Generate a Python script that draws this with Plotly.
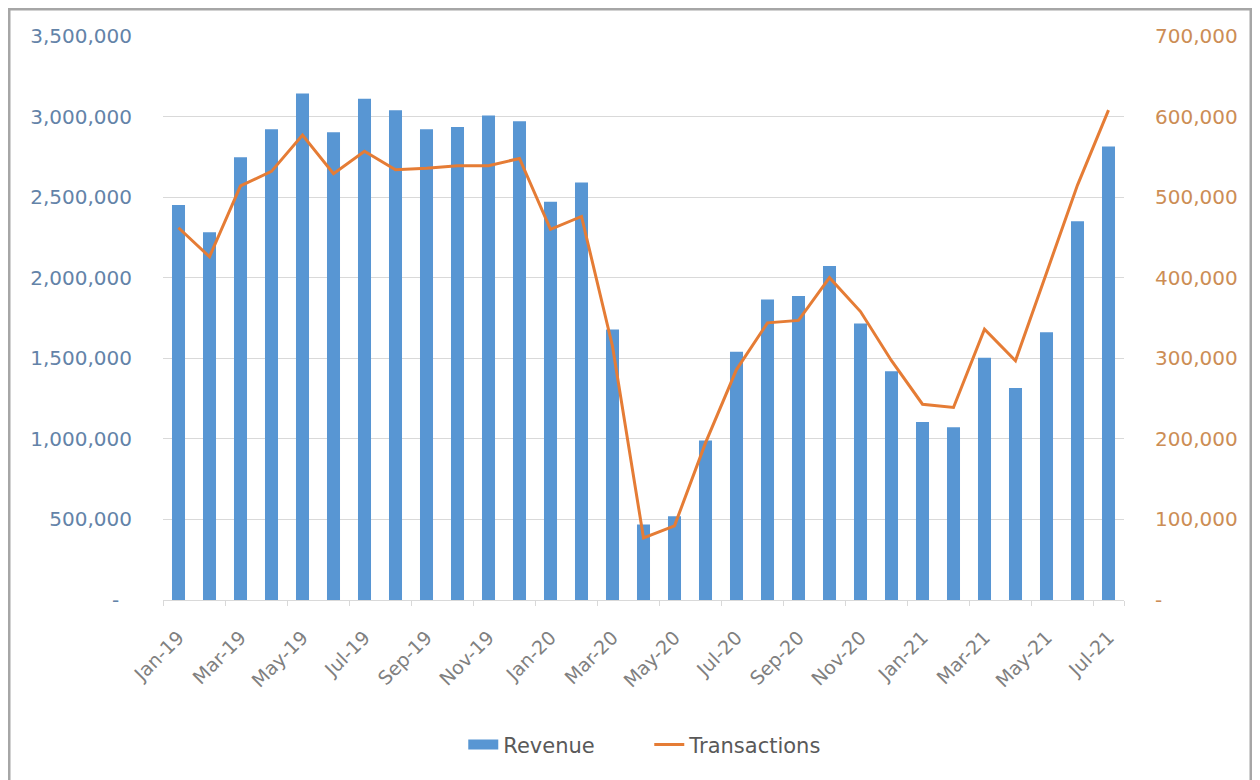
import plotly.graph_objects as go

# Monthly data, Jan-19 to Jul-21
months = [
    "Jan-19", "Feb-19", "Mar-19", "Apr-19", "May-19", "Jun-19",
    "Jul-19", "Aug-19", "Sep-19", "Oct-19", "Nov-19", "Dec-19",
    "Jan-20", "Feb-20", "Mar-20", "Apr-20", "May-20", "Jun-20",
    "Jul-20", "Aug-20", "Sep-20", "Oct-20", "Nov-20", "Dec-20",
    "Jan-21", "Feb-21", "Mar-21", "Apr-21", "May-21", "Jun-21", "Jul-21",
]

revenue = [
    2452000, 2282000, 2748000, 2921000, 3143000, 2903000,
    3110000, 3039000, 2921000, 2936000, 3006000, 2971000,
    2472000, 2591000, 1679000, 469000, 520000, 990000,
    1540000, 1865000, 1886000, 2072000, 1716000, 1420000,
    1105000, 1072000, 1504000, 1315000, 1661000, 2351000, 2814000,
]

transactions = [
    462000, 426000, 514000, 532000, 577000, 529000,
    557000, 534000, 536000, 539000, 539000, 548000,
    460000, 476000, 315000, 77000, 92000, 195000,
    286000, 344000, 347000, 400000, 358000, 297000,
    243000, 239000, 336000, 297000, 406000, 515000, 608000,
]

revenue_ticks = [0, 500000, 1000000, 1500000, 2000000, 2500000, 3000000, 3500000]
transaction_ticks = [0, 100000, 200000, 300000, 400000, 500000, 600000, 700000]
month_ticks = months[::2]

FONT = "DejaVu Sans"
BLUE = "#5896D3"
ORANGE = "#E57C35"

# the page puts the figure 8px in from the corner, so work in figure px
W, H = 1252, 772
L, R, T, B = 155, 136, 28, 180


def px_to_paper(x, y):
    # convert figure pixel position into paper coords of the plot area
    pw = W - L - R
    ph = H - T - B
    return (x - L) / pw, (H - B - y) / ph


def accounting(v, left=True):
    # Excel accounting format shows zero as a dash
    if v == 0:
        return "-\u00a0\u00a0" if left else "-"
    return f"{v:,}"


fig = go.Figure()

fig.add_trace(go.Bar(
    x=months,
    y=revenue,
    name="Revenue",
    marker=dict(color=BLUE, line=dict(width=0)),
    showlegend=False,
    yaxis="y",
))

fig.add_trace(go.Scatter(
    x=months,
    y=transactions,
    mode="lines",
    name="Transactions",
    line=dict(color=ORANGE, width=3),
    yaxis="y2",
    legendrank=2,
))

# wide swatch for the bar series in the legend, like Excel draws it
fig.add_trace(go.Scatter(
    x=[None],
    y=[None],
    mode="lines",
    name="Revenue",
    line=dict(color=BLUE, width=14),
    legendrank=1,
))

x0, y0 = px_to_paper(1, 1)
x1, y1 = px_to_paper(1243, 800)

fig.update_layout(
    width=W,
    height=H,
    margin=dict(l=L, r=R, t=T, b=B),
    paper_bgcolor="white",
    plot_bgcolor="white",
    font=dict(family=FONT, size=20, color="#595959"),
    bargap=0.58,
    showlegend=True,
    legend=dict(
        orientation="h",
        x=0.506,
        xanchor="center",
        y=-0.257,
        yanchor="middle",
        font=dict(family=FONT, size=21, color="#595959"),
        itemwidth=30,
        entrywidth=141,
        entrywidthmode="pixels",
        traceorder="normal",
    ),
    xaxis=dict(
        type="category",
        categoryorder="array",
        categoryarray=months,
        tickmode="array",
        tickvals=month_ticks,
        ticktext=month_ticks,
        tickangle=-45,
        tickson="boundaries",
        ticks="outside",
        ticklen=5,
        tickcolor="#D9D9D9",
        ticklabelstandoff=18,
        showline=True,
        linecolor="#D9D9D9",
        linewidth=1,
        showgrid=False,
        tickfont=dict(family=FONT, size=19, color="#808080"),
    ),
    yaxis=dict(
        range=[0, 3500000],
        tickmode="array",
        tickvals=revenue_ticks,
        ticktext=[accounting(v) for v in revenue_ticks],
        showgrid=True,
        gridcolor="#D9D9D9",
        gridwidth=1,
        zeroline=False,
        showline=False,
        ticks="",
        ticklabelstandoff=30,
        tickfont=dict(family=FONT, size=20, color="#6383A8"),
    ),
    yaxis2=dict(
        range=[0, 700000],
        overlaying="y",
        side="right",
        tickmode="array",
        tickvals=transaction_ticks,
        ticktext=[accounting(v, left=False) for v in transaction_ticks],
        showgrid=False,
        zeroline=False,
        showline=False,
        ticks="",
        ticklabelstandoff=30,
        tickfont=dict(family=FONT, size=20, color="#CC8D55"),
    ),
    shapes=[
        dict(
            type="rect",
            xref="paper",
            yref="paper",
            x0=x0, x1=x1, y0=y1, y1=y0,
            line=dict(color="#A6A6A6", width=3),
            fillcolor="rgba(0,0,0,0)",
            layer="below",
        )
    ],
)

fig.write_html("out.html")
